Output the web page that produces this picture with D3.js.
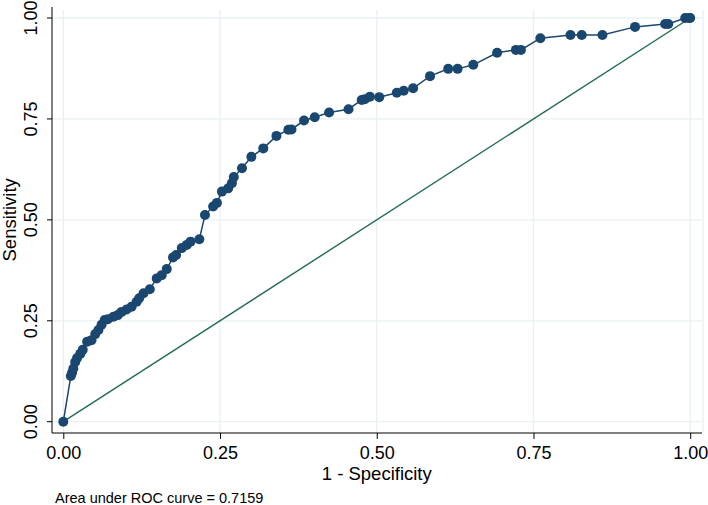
<!DOCTYPE html>
<html>
<head>
<meta charset="utf-8">
<script src="https://cdn.jsdelivr.net/npm/d3@7"></script>
<style>
	body { margin: 0; background: #fff; }
	text { font-family: "Liberation Sans", Arial, Helvetica, sans-serif; fill: #000; }
</style>
</head>
<body>
<svg id="chart" width="708" height="505"></svg>
<script>
// ROC points: 1 - specificity, sensitivity
var fpr = [0, 0.012, 0.014, 0.016, 0.019, 0.022, 0.027, 0.031, 0.038, 0.045,
	0.051, 0.056, 0.061, 0.066, 0.071, 0.080, 0.087, 0.093, 0.101, 0.109,
	0.117, 0.121, 0.128, 0.138, 0.149, 0.157, 0.165, 0.175, 0.180, 0.189,
	0.197, 0.203, 0.217, 0.226, 0.239, 0.245, 0.253, 0.263, 0.269, 0.272,
	0.285, 0.300, 0.319, 0.340, 0.359, 0.364, 0.384, 0.401, 0.424, 0.455,
	0.476, 0.481, 0.489, 0.504, 0.532, 0.543, 0.558, 0.585, 0.614, 0.629,
	0.654, 0.692, 0.722, 0.730, 0.761, 0.809, 0.827, 0.860, 0.912, 0.960,
	0.965, 0.992, 0.998, 1];
var tpr = [0, 0.113, 0.121, 0.132, 0.148, 0.158, 0.168, 0.178, 0.198, 0.202,
	0.217, 0.227, 0.240, 0.252, 0.254, 0.260, 0.264, 0.272, 0.278, 0.285,
	0.297, 0.306, 0.318, 0.328, 0.355, 0.363, 0.378, 0.407, 0.413, 0.430,
	0.438, 0.446, 0.452, 0.512, 0.533, 0.542, 0.570, 0.578, 0.591, 0.606,
	0.628, 0.656, 0.677, 0.708, 0.723, 0.724, 0.746, 0.754, 0.766, 0.774,
	0.797, 0.799, 0.805, 0.804, 0.815, 0.820, 0.826, 0.856, 0.874, 0.874,
	0.884, 0.914, 0.921, 0.921, 0.950, 0.958, 0.958, 0.958, 0.978, 0.985,
	0.985, 1, 1, 1];
var ticks = [0, 0.25, 0.5, 0.75, 1];
var xTitle = "1 - Specificity",
	yTitle = "Sensitivity",
	note = "Area under ROC curve = 0.7159";

var svg = d3.select("#chart"),
	navy = "#1a476f",
	green = "#216b52",
	gridColor = "#e8f0f2";

var x = d3.scaleLinear().domain([0, 1]).range([63.3, 690.2]),
	y = d3.scaleLinear().domain([0, 1]).range([421.7, 18]);

var plotLeft = 52, plotRight = 702, plotTop = 8, plotBottom = 433;

// grid
svg.append("g").selectAll("line.gx").data(ticks).enter().append("line")
	.attr("x1", function(d) { return x(d); }).attr("x2", function(d) { return x(d); })
	.attr("y1", plotTop + 2).attr("y2", plotBottom)
	.attr("stroke", gridColor).attr("stroke-width", 1.3);
svg.append("g").selectAll("line.gy").data(ticks).enter().append("line")
	.attr("y1", function(d) { return y(d); }).attr("y2", function(d) { return y(d); })
	.attr("x1", plotLeft).attr("x2", plotRight)
	.attr("stroke", gridColor).attr("stroke-width", 1.3);
// right edge of plot region
svg.append("line")
	.attr("x1", plotRight + 1).attr("x2", plotRight + 1)
	.attr("y1", plotTop + 2).attr("y2", plotBottom)
	.attr("stroke", gridColor).attr("stroke-width", 1.3);

// axes
var xAxis = d3.axisBottom(x).tickValues(ticks).tickFormat(d3.format(".2f")).tickSize(6).tickPadding(7);
var gx = svg.append("g").attr("transform", "translate(0," + plotBottom + ")").call(xAxis);
gx.select(".domain").attr("d", "M" + plotLeft + ",0H" + plotRight).attr("stroke", "#000");
gx.selectAll("text").style("font-size", "18px");

var yAxis = d3.axisLeft(y).tickValues(ticks).tickFormat(d3.format(".2f")).tickSize(5).tickPadding(0);
var gy = svg.append("g").attr("transform", "translate(" + plotLeft + ",0)").call(yAxis);
gy.select(".domain").attr("d", "M0," + (plotTop - 1) + "V" + plotBottom).attr("stroke", "#000");
gy.selectAll("text")
	.style("font-size", "18px")
	.attr("text-anchor", "middle")
	.attr("x", 0).attr("dy", 0)
	.attr("transform", function(d) { return "translate(-15," + y(d) + ") rotate(-90)"; })
	.attr("y", 0);
gy.selectAll(".tick").attr("transform", null);
gy.selectAll(".tick line").attr("y1", function(d) { return y(d); }).attr("y2", function(d) { return y(d); });

// titles
svg.append("text").attr("x", x(0.5)).attr("y", 480)
	.attr("text-anchor", "middle").style("font-size", "18.5px").text(xTitle);
svg.append("text").attr("transform", "translate(16," + y(0.5) + ") rotate(-90)")
	.attr("text-anchor", "middle").style("font-size", "18.5px").text(yTitle);
svg.append("text").attr("x", 55).attr("y", 503)
	.style("font-size", "14.5px").text(note);

// reference line
svg.append("line")
	.attr("x1", x(0)).attr("y1", y(0)).attr("x2", x(1)).attr("y2", y(1))
	.attr("stroke", green).attr("stroke-width", 1.4);

// ROC curve
var pts = fpr.map(function(d, i) { return [d, tpr[i]]; });
svg.append("path").datum(pts)
	.attr("d", d3.line().x(function(d) { return x(d[0]); }).y(function(d) { return y(d[1]); }))
	.attr("fill", "none").attr("stroke", navy).attr("stroke-width", 1.5);
svg.append("g").selectAll("circle").data(pts).enter().append("circle")
	.attr("cx", function(d) { return x(d[0]); })
	.attr("cy", function(d) { return y(d[1]); })
	.attr("r", 5)
	.attr("fill", navy);
</script>
</body>
</html>
